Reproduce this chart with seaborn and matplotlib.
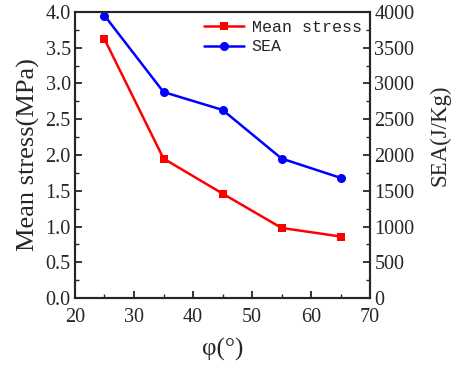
import matplotlib
matplotlib.use("Agg")
import matplotlib.pyplot as plt
import seaborn as sns
import pandas as pd
from matplotlib.ticker import MultipleLocator

angle = [25, 35, 45, 55, 65]
mean_stress = [3.62, 1.95, 1.46, 0.98, 0.86]
sea = [3950, 2880, 2630, 1950, 1680]

sns.set_style("ticks")
plt.rcParams['font.family'] = ['Liberation Serif', 'DejaVu Serif']
plt.rcParams['xtick.direction'] = 'in'
plt.rcParams['ytick.direction'] = 'in'

df = pd.DataFrame({"angle": angle, "stress": mean_stress, "sea": sea})

fig = plt.figure(figsize=(4.57, 3.73), dpi=100)
ax = fig.add_axes([0.164, 0.201, 0.646, 0.767])
ax2 = ax.twinx()

sns.lineplot(data=df, x="angle", y="stress", ax=ax, color="#ff0000", marker="s",
             markersize=5.5, markeredgewidth=0, linewidth=1.8, label="Mean stress", legend=False)
sns.lineplot(data=df, x="angle", y="sea", ax=ax2, color="#0000ff", marker="o",
             markersize=6.5, markeredgewidth=0, linewidth=1.8, label="SEA", legend=False)

ax.set_xlim(20, 70)
ax.set_ylim(0, 4.0)
ax2.set_ylim(0, 4000)
ax.xaxis.set_major_locator(MultipleLocator(10))
ax.xaxis.set_minor_locator(MultipleLocator(5))
ax.yaxis.set_major_locator(MultipleLocator(0.5))
ax.yaxis.set_minor_locator(MultipleLocator(0.25))
ax2.yaxis.set_major_locator(MultipleLocator(500))
ax2.yaxis.set_minor_locator(MultipleLocator(250))

for a in (ax, ax2):
    a.tick_params(which='major', direction='in', length=5, width=1.3, labelsize=14.5, pad=3)
    a.tick_params(which='minor', direction='in', length=3, width=1.0)
    for s in a.spines.values():
        s.set_linewidth(1.5)
ax.tick_params(axis='x', pad=7)

ax.set_xlabel("φ(°)", fontsize=18, labelpad=8)
ax.set_ylabel("Mean stress(MPa)", fontsize=19, labelpad=4)
ax2.set_ylabel("SEA(J/Kg)", fontsize=16.5, labelpad=6)
ax2.yaxis.set_label_coords(1.20, 0.57)

h1, l1 = ax.get_legend_handles_labels()
h2, l2 = ax2.get_legend_handles_labels()
leg = ax.legend(h1 + h2, l1 + l2, loc="upper right", frameon=False,
                prop={'family': 'Liberation Mono', 'size': 12},
                handlelength=2.4, handletextpad=0.5, borderaxespad=0.2,
                labelspacing=0.25, borderpad=0.3)

fig.savefig("out.png", dpi=100)
